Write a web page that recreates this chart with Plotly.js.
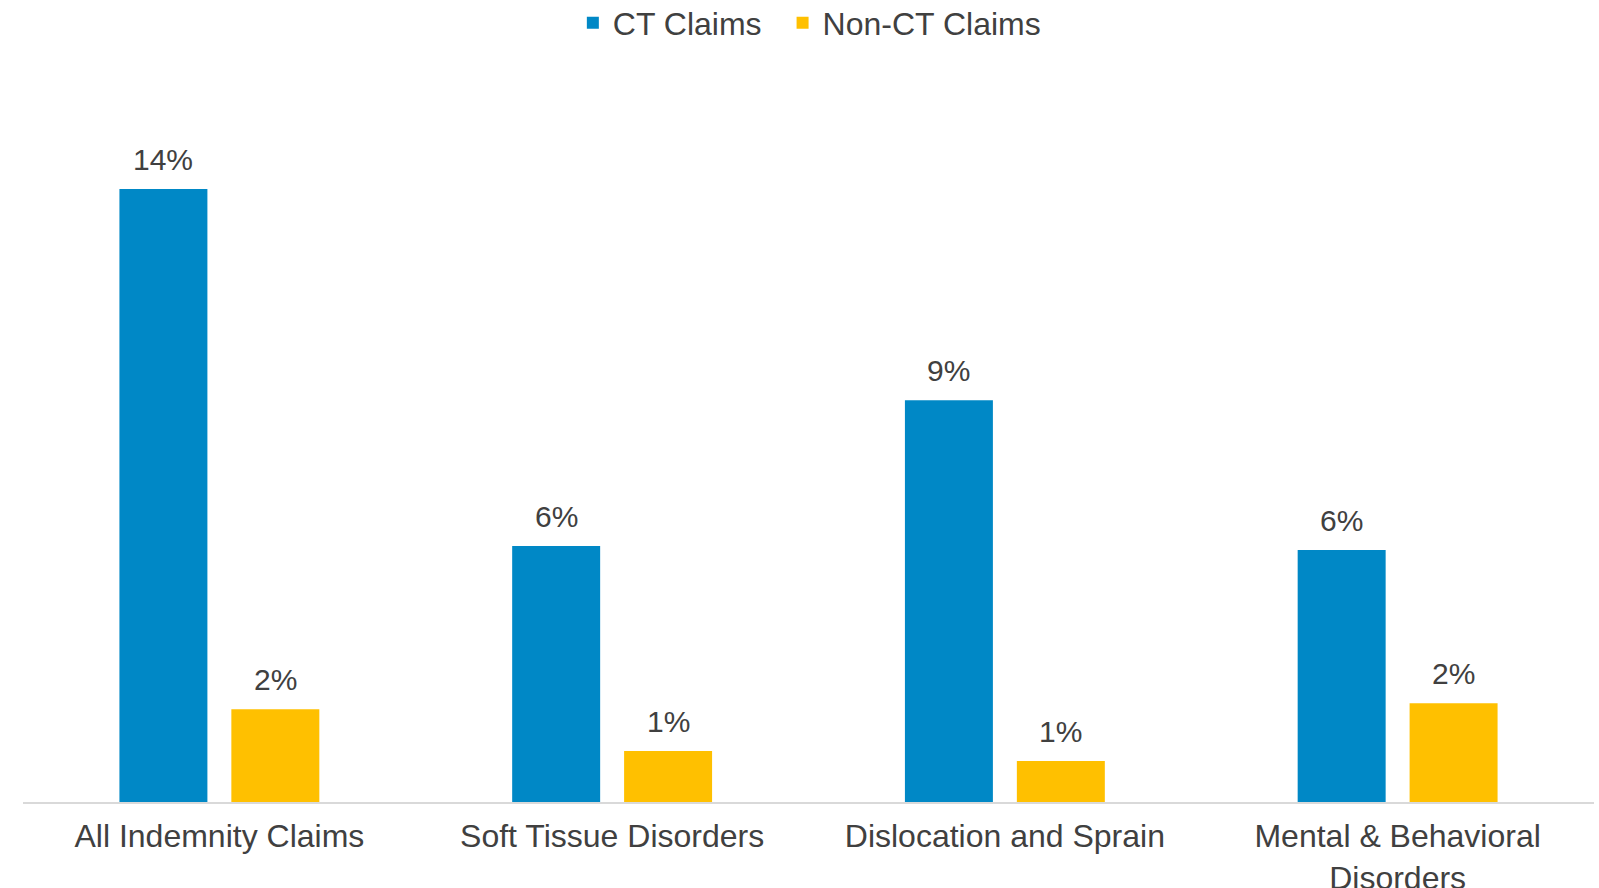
<!DOCTYPE html>
<html>
<head>
<meta charset="utf-8">
<script src="https://cdn.plot.ly/plotly-3.0.1.min.js"></script>
<style>html,body{margin:0;padding:0;background:#fff;}#chart{width:1599px;height:888px;}</style>
</head>
<body>
<div id="chart"></div>
<script>
const categories = ["All Indemnity Claims", "Soft Tissue Disorders", "Dislocation and Sprain", "Mental & Behavioral<br>Disorders"];
const ctClaims = [14.2, 5.93, 9.31, 5.84];
const nonCtClaims = [2.15, 1.18, 0.95, 2.29];
const seriesNames = ["CT Claims", "Non-CT Claims"];

const textColor = "#404040";
const font = "Liberation Sans, Arial, sans-serif";
const bargap = 0.43;

const traces = [
  {type: "bar", name: seriesNames[0], x: categories, y: ctClaims, marker: {color: "#0088c6"}, hoverinfo: "skip", legend: "legend"},
  {type: "bar", name: seriesNames[1], x: categories, y: nonCtClaims, marker: {color: "#ffc000"}, hoverinfo: "skip", legend: "legend2"}
];

// value labels above each bar, positioned through the category axis
const slot = (1 - bargap) / 2;
const annotations = [];
[ctClaims, nonCtClaims].forEach((series, s) => {
  series.forEach((v, i) => {
    annotations.push({
      x: i + (s === 0 ? -slot / 2 : slot / 2), y: v, xref: "x", yref: "y",
      text: Math.round(v) + "%", showarrow: false, yanchor: "bottom", yshift: 11,
      font: {size: 30, color: textColor, family: font}
    });
  });
});

const legendFont = {size: 32, color: textColor, family: font};

const layout = {
  width: 1599, height: 888,
  margin: {l: 23, r: 5, t: 60, b: 86, autoexpand: false},
  paper_bgcolor: "#fff", plot_bgcolor: "#fff",
  barmode: "group", bargap: bargap, bargroupgap: 0.214,
  font: {family: font, color: textColor, size: 32},
  showlegend: true,
  legend: {orientation: "h", x: 0.350, xanchor: "left", y: 1.05, yanchor: "middle", font: legendFont},
  legend2: {orientation: "h", x: 0.4835, xanchor: "left", y: 1.05, yanchor: "middle", font: legendFont},
  xaxis: {type: "category", showline: true, linecolor: "#d9d9d9", linewidth: 2,
          ticks: "", showgrid: false, zeroline: false, ticklabelstandoff: 5,
          tickfont: {size: 32, color: textColor, family: font}},
  yaxis: {visible: false, range: [0, 17.19], showgrid: false, zeroline: false},
  annotations: annotations
};

Plotly.newPlot("chart", traces, layout, {displayModeBar: false, staticPlot: true});
</script>
</body>
</html>
